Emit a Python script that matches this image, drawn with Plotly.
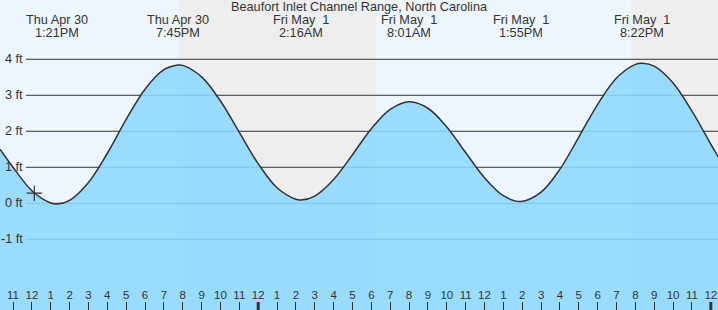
import plotly.graph_objects as go

TIDE_HOURS = [10.31, 11, 12, 13, 13.35, 14, 15, 16, 17, 18, 19, 19.75,
              20, 21, 22, 23, 24, 25, 26, 26.27, 27, 28, 29, 30, 31, 32.02,
              33, 34, 35, 36, 37, 37.92, 39, 40, 41, 42, 43, 44, 44.37,
              45, 46, 47, 48, 48.38]
TIDE_FT = [1.50, 1.00, 0.35, 0.01, -0.02, 0.08, 0.58, 1.39, 2.33, 3.17, 3.71, 3.84,
           3.83, 3.51, 2.84, 1.97, 1.10, 0.43, 0.11, 0.09, 0.20, 0.66, 1.35, 2.07, 2.61, 2.82,
           2.64, 2.12, 1.41, 0.71, 0.21, 0.05, 0.31, 0.95, 1.84, 2.75, 3.48, 3.86, 3.89,
           3.81, 3.34, 2.56, 1.64, 1.30]

EXTREME_HOURS = [13.35, 19.75, 26.27, 32.02, 37.92, 44.37]
EXTREME_DAYS = ["Thu Apr 30", "Thu Apr 30", "Fri May\u00a0 1", "Fri May\u00a0 1",
                "Fri May\u00a0 1", "Fri May\u00a0 1"]
EXTREME_TIMES = ["1:21PM", "7:45PM", "2:16AM", "8:01AM", "1:55PM", "8:22PM"]

NOW_HOUR = [12.13]
NOW_FT = [0.28]

NIGHT_STARTS = [19.80, 43.78]
NIGHT_ENDS = [30.23, 48.38]

Y_TICKS = [-1, 0, 1, 2, 3, 4]
Y_TICK_LABELS = ["-1 ft", "0 ft", "1 ft", "2 ft", "3 ft", "4 ft"]

HOUR_TICKS = list(range(11, 49))
HOUR_LABELS = [str(h % 12 if h % 12 else 12) for h in HOUR_TICKS]
MIDNIGHTS = [24, 48]

TITLE = "Beaufort Inlet Channel Range, North Carolina"

X_RANGE = [10.31, 48.38]
Y_RANGE = [-2.964, 5.647]
FILL_FLOOR = -4.0

W, H = 718, 310
FONT = "Liberation Sans"
TXT = "#333333"

fig = go.Figure()

# baseline for the water fill
fig.add_trace(go.Scatter(x=[X_RANGE[0] - 1, X_RANGE[1] + 1], y=[FILL_FLOOR, FILL_FLOOR],
                         mode="lines", line=dict(width=0), hoverinfo="skip",
                         showlegend=False))
fig.add_trace(go.Scatter(x=TIDE_HOURS, y=TIDE_FT, mode="lines",
                         line=dict(color="#333333", width=1.5, shape="spline", smoothing=1.0),
                         fill="tonexty", fillcolor="rgba(141,216,255,0.88)",
                         showlegend=False))
fig.add_trace(go.Scatter(x=NOW_HOUR, y=NOW_FT, mode="markers",
                         marker=dict(symbol="cross-thin", size=11,
                                     line=dict(color="#333333", width=1.2)),
                         showlegend=False))

shapes = []
for s, e in zip(NIGHT_STARTS, NIGHT_ENDS):
    shapes.append(dict(type="rect", xref="x", yref="paper", x0=s, x1=e, y0=0, y1=1,
                       fillcolor="#eeeeee", line=dict(width=0), layer="below"))
for v in Y_TICKS:
    shapes.append(dict(type="line", xref="paper", yref="y", x0=26 / W, x1=1, y0=v, y1=v,
                       line=dict(color="#333333", width=1), layer="below"))
for m in MIDNIGHTS:
    shapes.append(dict(type="line", xref="x", yref="paper", x0=m, x1=m, y0=0, y1=8 / H,
                       line=dict(color="#333333", width=3)))

annotations = [dict(text=TITLE, xref="paper", yref="paper", x=0.5, y=1 - 7.5 / H,
                    xanchor="center", yanchor="middle", showarrow=False,
                    font=dict(family=FONT, size=12.7, color=TXT))]
for hx, d, t in zip(EXTREME_HOURS, EXTREME_DAYS, EXTREME_TIMES):
    annotations.append(dict(text=d, xref="x", yref="paper", x=hx, y=1 - 20 / H,
                            xanchor="center", yanchor="middle", showarrow=False,
                            font=dict(family=FONT, size=12.7, color=TXT)))
    annotations.append(dict(text=t, xref="x", yref="paper", x=hx, y=1 - 32.5 / H,
                            xanchor="center", yanchor="middle", showarrow=False,
                            font=dict(family=FONT, size=12.7, color=TXT)))
for v, lab in zip(Y_TICKS, Y_TICK_LABELS):
    annotations.append(dict(text=lab, xref="paper", yref="y", x=25 / W, y=v,
                            xanchor="right", yanchor="middle", showarrow=False,
                            font=dict(family=FONT, size=12.7, color=TXT)))

fig.update_layout(
    width=W, height=H, margin=dict(l=0, r=0, t=0, b=0),
    paper_bgcolor="#edf6fe", plot_bgcolor="#edf6fe",
    showlegend=False, shapes=shapes, annotations=annotations,
    xaxis=dict(range=X_RANGE, tickvals=HOUR_TICKS, ticktext=HOUR_LABELS,
               ticks="inside", ticklen=8, tickwidth=1, tickcolor="#333333",
               ticklabelposition="inside", showgrid=False, zeroline=False,
               showline=False, tickfont=dict(family=FONT, size=11.5, color=TXT)),
    yaxis=dict(range=Y_RANGE, showgrid=False, zeroline=False, showticklabels=False,
               showline=False, ticks=""),
)

fig.write_html("out.html")
